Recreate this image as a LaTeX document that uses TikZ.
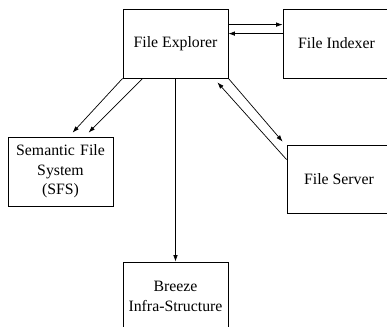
\documentclass[tikz,border=0pt]{standalone}
\usepackage{fontspec}
\setmainfont{Liberation Serif}
\usetikzlibrary{arrows.meta}
\tikzset{
  block/.style={draw, line width=0.8pt, minimum width=105pt, minimum height=69pt,
    align=center, inner sep=0pt, font=\fontsize{15.8}{19.5}\selectfont},
  link/.style={line width=0.7pt, -{Latex[length=6.5pt,width=4.5pt]}}
}
\begin{document}
\begin{tikzpicture}[x=1pt,y=-1pt]
\useasboundingbox (0,0) rectangle (387,326);
\clip (0,0) rectangle (387,326);
% boxes
\node[block] (fe) at (175.5,43.5) {File Explorer};
\node[block, minimum width=107pt] (fi) at (336.5,43.5) {File Indexer};
\node[block, text width=104pt] (sfs) at (60.5,171.5) {Semantic File\\System\\(SFS)};
\node[block, minimum width=104pt, minimum height=68pt] (fs) at (339,179) {File Server};
\node[block, text width=104pt] (bz) at (175.5,296.5) {Breeze\\Infra-Structure\\[6pt]};
% explorer <-> indexer
\draw[link] ([yshift=-16pt]fe.north east) -- ([yshift=-16pt]fi.north west);
\draw[link] ([yshift=-25pt]fi.north west) -- ([yshift=-25pt]fe.north east);
% explorer -> semantic file system
\draw[link] (fe.south west) -- ([shift={(65pt,4pt)}]sfs.north west);
\draw[link] ([xshift=20pt]fe.south west) -- ([shift={(81pt,4pt)}]sfs.north west);
% explorer -> breeze
\draw[link] (fe.south) -- (bz.north);
% explorer <-> file server
\draw[link] (fe.south east) -- ([shift={(-4pt,3pt)}]fs.north west);
\draw[link] ([yshift=-15pt]fs.north west) -- ([shift={(-11pt,-4pt)}]fe.south east);
\end{tikzpicture}
\end{document}
